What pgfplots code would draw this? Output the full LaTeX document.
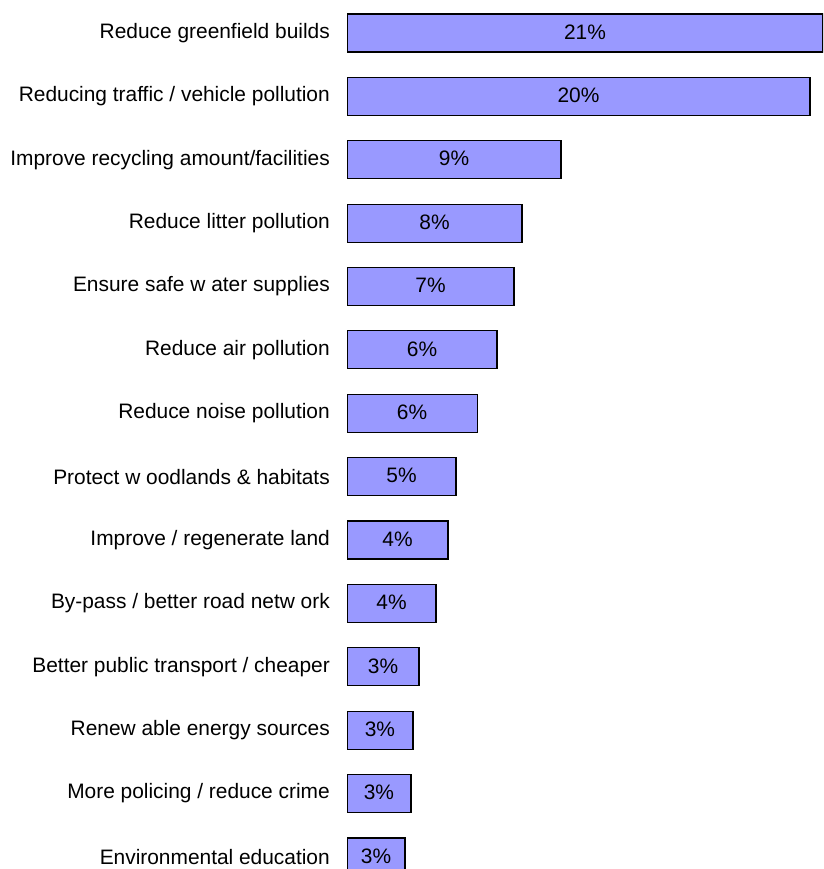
\documentclass[border=0pt]{standalone}
\usepackage{pgfplots}
\pgfplotsset{compat=1.18}
\usepackage{pgfplotstable}
\usepackage{fontspec}
\setmainfont{Liberation Sans}
\definecolor{barfill}{HTML}{9999FF}
\pgfplotstableread[col sep=comma]{
idx,val,lab
0,21,21
1,20.43,20
2,9.44,9
3,7.72,8
4,7.37,7
5,6.62,6
6,5.74,6
7,4.81,5
8,4.46,4
9,3.93,4
10,3.18,3
11,2.91,3
12,2.82,3
13,2.56,3
}\datatable
\begin{document}
\begin{tikzpicture}[x=1pt,y=1pt]
\useasboundingbox (0,0) rectangle (823,869);
\begin{axis}[
  at={(347pt,0pt)}, anchor=south west,
  width=476pt, height=869pt, scale only axis,
  xbar, bar width=38pt,
  xmin=0, xmax=21,
  ymin=-0.52, ymax=13.19, y dir=reverse,
  axis line style={draw=none},
  major tick length=0pt,
  xtick=\empty,
  ytick={0,...,13},
  yticklabels={
    Reduce greenfield builds\hspace{7pt},
    Reducing traffic / vehicle pollution\hspace{5pt},
    Improve recycling amount/facilities,
    Reduce litter pollution\hspace{6pt},
    Ensure safe w ater supplies\hspace{6pt},
    Reduce air pollution,
    Reduce noise pollution,
    Protect w oodlands \& habitats,
    Improve / regenerate land,
    By-pass / better road netw ork,
    Better public transport / cheaper,
    Renew able energy sources,
    More policing / reduce crime,
    Environmental education},
  yticklabel style={font=\fontsize{20.9}{24}\selectfont, inner sep=0pt, xshift=-17pt},
]
\addplot[fill=barfill, draw=black, line width=1.2pt,
  visualization depends on={\thisrow{val}\as\barval},
  point meta=explicit symbolic,
  nodes near coords={\pgfplotspointmeta\%},
  every node near coord/.append style={anchor=center, black,
    font=\fontsize{20.9}{24}\selectfont, inner sep=0pt,
    shift={(axis direction cs:-\barval/2,0)}, yshift=1pt}
] table[x=val, y=idx, meta=lab]{\datatable};
\end{axis}
\end{tikzpicture}
\end{document}
